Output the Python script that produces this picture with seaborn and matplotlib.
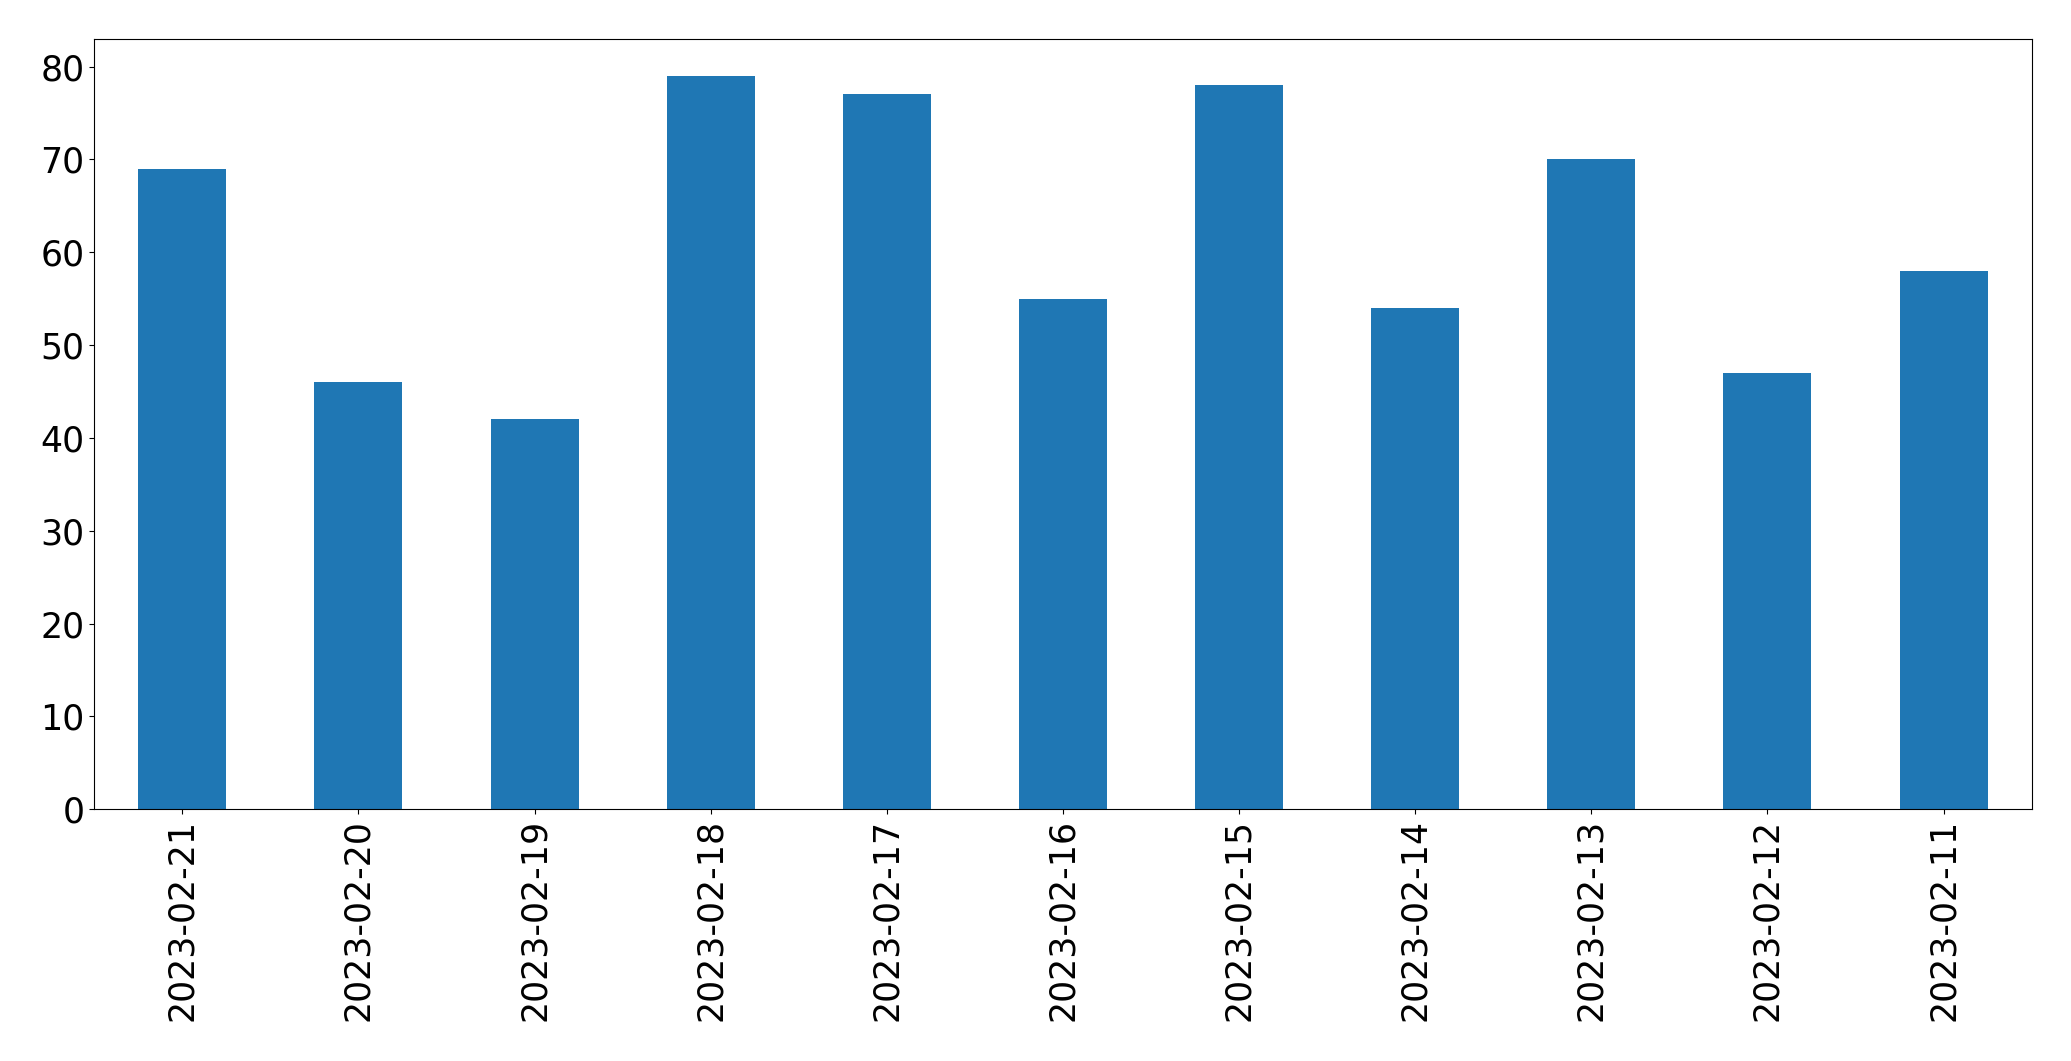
import matplotlib
matplotlib.use("Agg")
import matplotlib.pyplot as plt
import pandas as pd
import seaborn as sns

dates = ["2023-02-21", "2023-02-20", "2023-02-19", "2023-02-18", "2023-02-17",
         "2023-02-16", "2023-02-15", "2023-02-14", "2023-02-13", "2023-02-12",
         "2023-02-11"]
counts = [69, 46, 42, 79, 77, 55, 78, 54, 70, 47, 58]

df = pd.DataFrame({"date": dates, "count": counts})

fig, ax = plt.subplots(figsize=(20.71, 10.61), dpi=100)
plt.subplots_adjust(left=0.0455, right=0.981, top=0.963, bottom=0.2372)

sns.barplot(data=df, x="date", y="count", order=dates, color="#1f77b4",
            saturation=1, width=0.5, linewidth=0, ax=ax)

ax.set_xlim(-0.5, len(dates) - 0.5)
ax.set_ylim(0, max(counts) * 1.05)
ax.set_xlabel("")
ax.set_ylabel("")
ax.tick_params(axis="both", labelsize=25)
ax.tick_params(axis="x", labelrotation=90)

fig.savefig("out.png", dpi=100)
